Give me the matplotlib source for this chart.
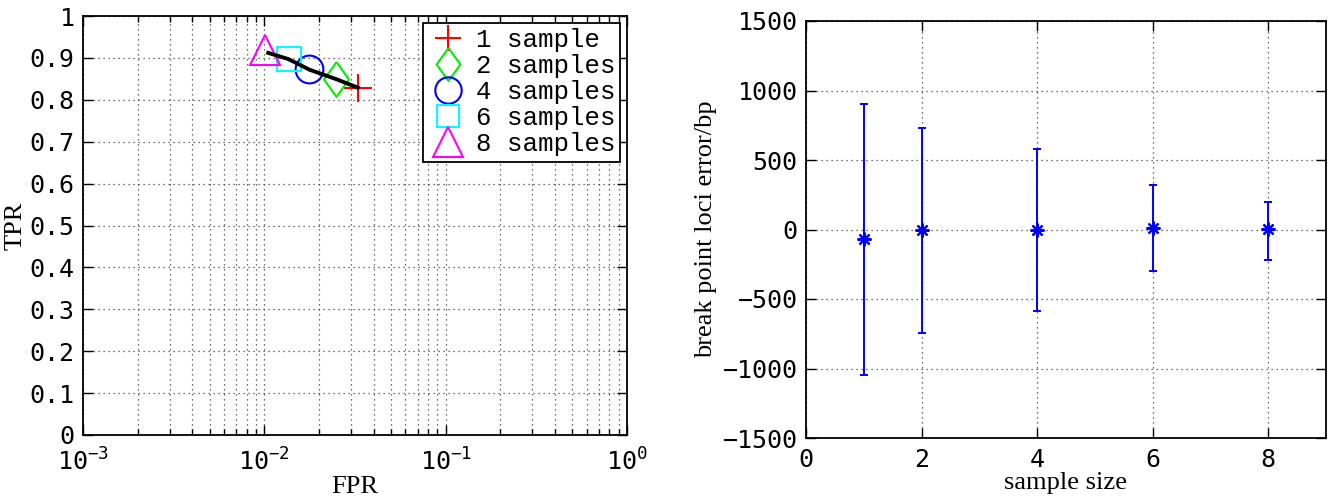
#!/usr/bin/env python3
"""ROC points per sample count (left) and break point loci error (right)."""
import matplotlib
matplotlib.use("Agg")
import matplotlib.pyplot as plt
from matplotlib.ticker import LogLocator, FixedLocator, NullFormatter

# ---- left panel: ROC operating points ----
ROC_LABELS = ["1 sample", "2 samples", "4 samples", "6 samples", "8 samples"]
ROC_FPR = [0.0328, 0.0250, 0.0177, 0.0136, 0.0101]
ROC_TPR = [0.829, 0.849, 0.874, 0.897, 0.918]
CURVE_FPR = [0.0105, 0.0136, 0.0177, 0.0250, 0.0328]
CURVE_TPR = [0.912, 0.897, 0.872, 0.849, 0.829]

# ---- right panel: break point loci error ----
SAMPLE_SIZE = [1, 2, 4, 6, 8]
ERR_MEAN = [-70, -5, -5, 8, 2]
ERR_UPPER = [906, 727, 578, 317, 201]
ERR_LOWER = [-1048, -743, -585, -297, -216]

DIAMOND = [(0, 1), (0.72, 0), (0, -1), (-0.72, 0), (0, 1)]
MARKERS = ["+", DIAMOND, "o", "s", "^"]
COLORS = ["#ff0000", "#00ee00", "#0000ff", "#00ffff", "#ff00ff"]
SIZES = [20, 25, 20, 17, 22]

TICK_FONT = "DejaVu Sans Mono"
LABEL_FONT = "Liberation Serif"

plt.rcParams["mathtext.fontset"] = "custom"
plt.rcParams["mathtext.rm"] = TICK_FONT
plt.rcParams["mathtext.it"] = TICK_FONT
plt.rcParams["axes.unicode_minus"] = True

GRID_KW = dict(color="0.25", linestyle=(0, (1, 3)), linewidth=0.9)


def style_ticks(ax, xpad=9):
    ax.tick_params(which="both", direction="in", top=True, right=True,
                   labelsize=18, width=1.0)
    ax.tick_params(which="major", length=7)
    ax.tick_params(axis="x", which="major", pad=xpad)
    ax.tick_params(axis="y", which="major", pad=6)
    ax.tick_params(which="minor", length=4)
    for lbl in ax.get_xticklabels() + ax.get_yticklabels():
        lbl.set_fontfamily(TICK_FONT)
    for sp in ax.spines.values():
        sp.set_linewidth(1.3)


fig = plt.figure(figsize=(13.36, 4.97), dpi=100)
ax1 = fig.add_axes([83 / 1336, 1 - 435 / 497, 544 / 1336, 419 / 497])
ax2 = fig.add_axes([806 / 1336, 1 - 438 / 497, 520 / 1336, 417 / 497])

# left
for lab, x, y, m, c, s in zip(ROC_LABELS, ROC_FPR, ROC_TPR, MARKERS, COLORS, SIZES):
    ax1.plot([x], [y], linestyle="none", marker=m, markersize=s,
             markerfacecolor="none", markeredgecolor=c, markeredgewidth=1.5,
             label=lab, zorder=3)
ax1.plot(CURVE_FPR, CURVE_TPR, color="black", linewidth=2.8, zorder=4)
ax1.set_xscale("log")
ax1.set_xlim(1e-3, 1)
ax1.set_ylim(0, 1)
ax1.xaxis.set_major_locator(LogLocator(base=10, numticks=10))
ax1.xaxis.set_minor_locator(LogLocator(base=10, subs=range(2, 10), numticks=20))
ax1.xaxis.set_minor_formatter(NullFormatter())
ax1.yaxis.set_major_locator(FixedLocator([i / 10 for i in range(11)]))
ax1.set_yticklabels(["0"] + [f"{i / 10:.1f}" for i in range(1, 10)] + ["1"])
ax1.grid(True, which="major", **GRID_KW)
ax1.grid(True, which="minor", axis="x", **GRID_KW)
ax1.set_axisbelow(True)
ax1.set_xlabel("FPR", fontsize=19, fontfamily=LABEL_FONT, labelpad=0)
ax1.set_ylabel("TPR", fontsize=19, fontfamily=LABEL_FONT, labelpad=2)
style_ticks(ax1, xpad=10)
leg = ax1.legend(loc="upper right", bbox_to_anchor=(0.988, 0.983),
                 borderaxespad=0, fancybox=False, framealpha=1,
                 edgecolor="black", handlelength=1.5, handletextpad=0.35,
                 labelspacing=0.08, borderpad=0.2, markerscale=0.95,
                 prop={"family": "Liberation Mono", "size": 18.5})
leg.get_frame().set_linewidth(1.3)

# right
yerr = [[m - lo for m, lo in zip(ERR_MEAN, ERR_LOWER)],
        [hi - m for m, hi in zip(ERR_MEAN, ERR_UPPER)]]
ax2.errorbar(SAMPLE_SIZE, ERR_MEAN, yerr=yerr, fmt="none", ecolor="#0000ff",
             elinewidth=1.4, capsize=3, capthick=1.4, zorder=3)
ax2.plot(SAMPLE_SIZE, ERR_MEAN, linestyle="none", marker=(8, 2, 0),
         markersize=10, markeredgecolor="#0000ff", markeredgewidth=1.6,
         zorder=4)
ax2.set_xlim(0, 9)
ax2.set_ylim(-1500, 1500)
ax2.xaxis.set_major_locator(FixedLocator([0, 2, 4, 6, 8]))
ax2.yaxis.set_major_locator(FixedLocator(list(range(-1500, 1501, 500))))
ax2.grid(True, which="major", **GRID_KW)
ax2.set_axisbelow(True)
ax2.set_xlabel("sample size", fontsize=19, fontfamily=LABEL_FONT, labelpad=0)
ax2.set_ylabel("break point loci error/bp", fontsize=19,
               fontfamily=LABEL_FONT, labelpad=4)
style_ticks(ax2, xpad=7)

fig.savefig("out.png", dpi=100)
